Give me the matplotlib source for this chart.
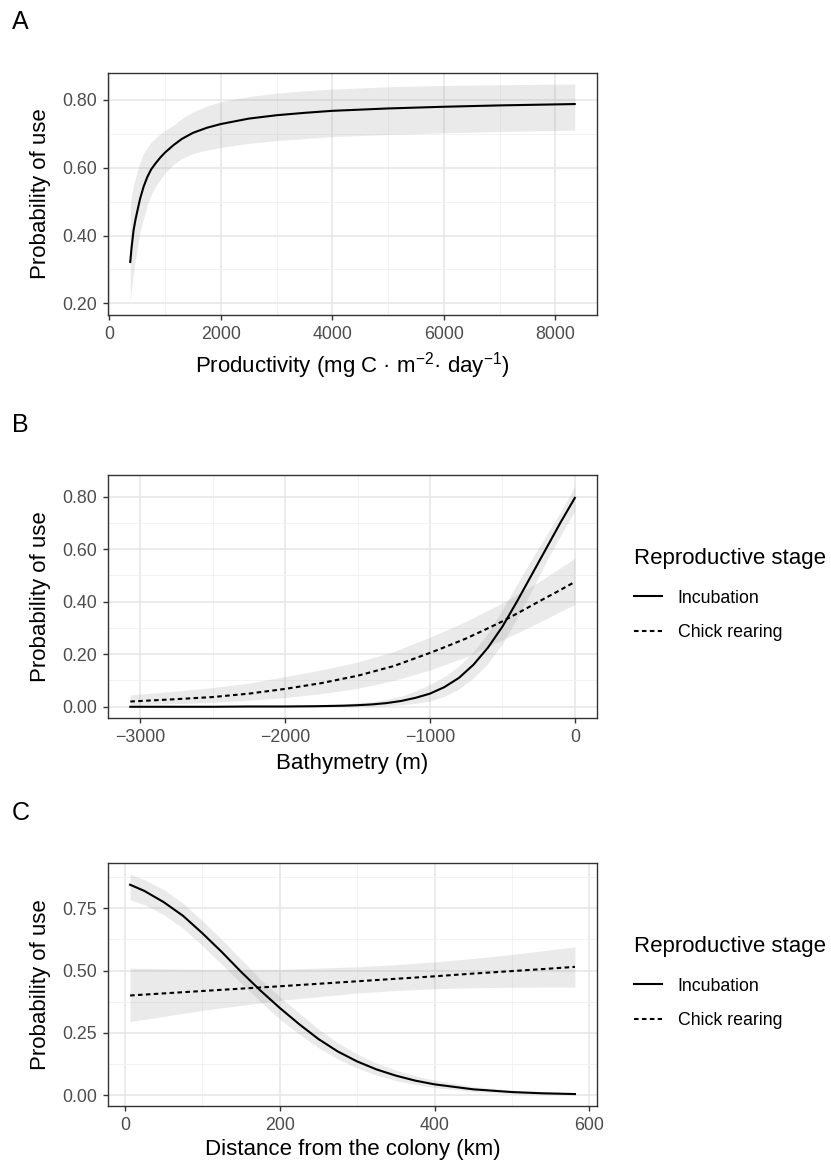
import matplotlib
matplotlib.use("Agg")
import matplotlib.pyplot as plt
from matplotlib.ticker import MultipleLocator

plt.rcParams['font.family'] = ['Liberation Sans', 'DejaVu Sans']
plt.rcParams['mathtext.fontset'] = 'custom'
plt.rcParams['mathtext.rm'] = 'Liberation Sans'
plt.rcParams['mathtext.default'] = 'regular'

# Panel A - productivity
prod_x = [376, 400, 436, 470, 500, 550, 615, 680, 750, 830, 914, 1000, 1153, 1300, 1500, 1750,
          2000, 2500, 3000, 3500, 4000, 5000, 6000, 7000, 8347]
prod_y = [0.322, 0.365, 0.416, 0.447, 0.47, 0.507, 0.544, 0.572, 0.595, 0.613, 0.630, 0.645, 0.667,
          0.685, 0.703, 0.718, 0.729, 0.745, 0.755, 0.762, 0.768, 0.775, 0.780, 0.784, 0.788]
prod_lo = [0.21, 0.245, 0.29, 0.33, 0.36, 0.41, 0.45, 0.49, 0.52, 0.545, 0.564, 0.585, 0.61,
           0.627, 0.642, 0.652, 0.66, 0.672, 0.68, 0.686, 0.692, 0.698, 0.703, 0.707, 0.711]
prod_hi = [0.49, 0.52, 0.55, 0.57, 0.59, 0.617, 0.643, 0.66, 0.675, 0.688, 0.70, 0.71, 0.726,
           0.745, 0.765, 0.782, 0.795, 0.81, 0.82, 0.827, 0.832, 0.839, 0.843, 0.845, 0.847]

# Panel B - bathymetry
bat_inc_x = [-3069, -2750, -2500, -2250, -2000, -1800, -1600, -1500, -1400, -1300, -1200, -1100,
             -1000, -900, -800, -700, -600, -500, -400, -300, -200, -100, 0]
bat_inc_y = [0, 0, 0, 0.001, 0.001, 0.002, 0.004, 0.006, 0.009, 0.014, 0.022, 0.034,
             0.05, 0.075, 0.11, 0.16, 0.225, 0.305, 0.40, 0.50, 0.60, 0.70, 0.795]
bat_inc_lo = [0, 0, 0, 0, 0, 0, 0.001, 0.001, 0.002, 0.004, 0.007, 0.013,
              0.022, 0.04, 0.068, 0.11, 0.165, 0.24, 0.335, 0.44, 0.55, 0.65, 0.745]
bat_inc_hi = [0.001, 0.001, 0.002, 0.003, 0.005, 0.007, 0.011, 0.015, 0.02, 0.028, 0.04, 0.06,
              0.085, 0.115, 0.155, 0.21, 0.28, 0.37, 0.465, 0.56, 0.65, 0.74, 0.84]

bat_chk_x = [-3069, -2750, -2500, -2250, -2000, -1750, -1500, -1250, -1000, -875, -750, -625,
             -500, -375, -250, -125, 0]
bat_chk_y = [0.02, 0.029, 0.037, 0.05, 0.068, 0.09, 0.118, 0.155, 0.205, 0.232, 0.26, 0.292,
             0.325, 0.362, 0.40, 0.437, 0.475]
bat_chk_lo = [0.008, 0.012, 0.017, 0.025, 0.035, 0.05, 0.07, 0.1, 0.14, 0.165, 0.19, 0.222,
              0.255, 0.287, 0.32, 0.355, 0.39]
bat_chk_hi = [0.045, 0.06, 0.073, 0.09, 0.115, 0.14, 0.17, 0.21, 0.265, 0.295, 0.325, 0.36,
              0.395, 0.435, 0.475, 0.52, 0.565]

# Panel C - distance from colony
dist_inc_x = [6.5, 25, 50, 75, 100, 125, 150, 175, 200, 225, 250, 275, 300, 325, 350, 375, 400,
              450, 500, 540, 581.5]
dist_inc_y = [0.845, 0.82, 0.775, 0.72, 0.65, 0.575, 0.495, 0.42, 0.35, 0.285, 0.225, 0.175, 0.135,
              0.103, 0.078, 0.058, 0.043, 0.023, 0.012, 0.007, 0.004]
dist_inc_lo = [0.785, 0.765, 0.725, 0.67, 0.60, 0.525, 0.45, 0.375, 0.305, 0.245, 0.19, 0.145, 0.108,
               0.08, 0.058, 0.042, 0.03, 0.014, 0.006, 0.003, 0.001]
dist_inc_hi = [0.888, 0.865, 0.825, 0.77, 0.70, 0.625, 0.545, 0.465, 0.395, 0.33, 0.265, 0.21, 0.165,
               0.128, 0.1, 0.077, 0.06, 0.034, 0.02, 0.013, 0.009]

dist_chk_x = [6.5, 100, 200, 300, 350, 400, 450, 500, 540, 581.5]
dist_chk_y = [0.40, 0.418, 0.437, 0.457, 0.467, 0.477, 0.488, 0.498, 0.506, 0.515]
dist_chk_lo = [0.295, 0.34, 0.38, 0.41, 0.42, 0.427, 0.431, 0.433, 0.434, 0.434]
dist_chk_hi = [0.51, 0.505, 0.505, 0.515, 0.524, 0.535, 0.549, 0.565, 0.58, 0.595]

stage_labels = ['Incubation', 'Chick rearing']

W, H = 831, 1163
fig = plt.figure(figsize=(W / 100, H / 100), dpi=100)


def make_axes(top, bottom, left=108, right=597):
    return fig.add_axes([left / W, 1 - bottom / H, (right - left) / W, (bottom - top) / H])


def style_axes(ax):
    for s in ax.spines.values():
        s.set_color('#333333')
        s.set_linewidth(1.0)
    ax.tick_params(which='major', direction='out', length=3.8, width=1.0, color='#333333',
                   labelsize=12.8, labelcolor='#4d4d4d', pad=4)
    ax.tick_params(which='minor', length=0)
    ax.grid(True, which='major', color='#e6e6e6', linewidth=1.1)
    ax.grid(True, which='minor', color='#f0f0f0', linewidth=0.6)
    ax.set_axisbelow(True)


ribbon = dict(color='#999999', alpha=0.2, linewidth=0)
dash = (0, (2.2, 1.6))

# ---- A ----
axA = make_axes(72.7, 315)
axA.fill_between(prod_x, prod_lo, prod_hi, **ribbon)
axA.plot(prod_x, prod_y, color='black', lw=1.5)
axA.set_xlim(-23, 8746)
axA.set_ylim(0.1655, 0.8805)
axA.xaxis.set_major_locator(MultipleLocator(2000))
axA.xaxis.set_minor_locator(MultipleLocator(1000))
axA.yaxis.set_major_locator(MultipleLocator(0.2))
axA.yaxis.set_minor_locator(MultipleLocator(0.1))
axA.yaxis.set_major_formatter(lambda v, p: f'{v:.2f}')
style_axes(axA)
axA.set_xlabel('Productivity (mg C · m$^{-2}$· day$^{-1}$)', fontsize=16, labelpad=5.5)
axA.set_ylabel('Probability of use', fontsize=16, labelpad=8)

# ---- B ----
axB = make_axes(475, 717.8)
axB.fill_between(bat_inc_x, bat_inc_lo, bat_inc_hi, **ribbon)
axB.fill_between(bat_chk_x, bat_chk_lo, bat_chk_hi, **ribbon)
axB.plot(bat_inc_x, bat_inc_y, color='black', lw=1.5, label=stage_labels[0])
axB.plot(bat_chk_x, bat_chk_y, color='black', lw=1.5, linestyle=dash, label=stage_labels[1])
axB.set_xlim(-3223, 153)
axB.set_ylim(-0.042, 0.882)
axB.xaxis.set_major_locator(MultipleLocator(1000))
axB.xaxis.set_minor_locator(MultipleLocator(500))
axB.yaxis.set_major_locator(MultipleLocator(0.2))
axB.yaxis.set_minor_locator(MultipleLocator(0.1))
axB.yaxis.set_major_formatter(lambda v, p: f'{v:.2f}')
axB.xaxis.set_major_formatter(lambda v, p: f'{v:.0f}'.replace('-', '\u2212'))
style_axes(axB)
axB.set_xlabel('Bathymetry (m)', fontsize=16, labelpad=5.5)
axB.set_ylabel('Probability of use', fontsize=16, labelpad=8)

# ---- C ----
axC = make_axes(863.3, 1106)
axC.fill_between(dist_inc_x, dist_inc_lo, dist_inc_hi, **ribbon)
axC.fill_between(dist_chk_x, dist_chk_lo, dist_chk_hi, **ribbon)
axC.plot(dist_inc_x, dist_inc_y, color='black', lw=1.5, label=stage_labels[0])
axC.plot(dist_chk_x, dist_chk_y, color='black', lw=1.5, linestyle=dash, label=stage_labels[1])
axC.set_xlim(-22, 610)
axC.set_ylim(-0.044, 0.931)
axC.xaxis.set_major_locator(MultipleLocator(200))
axC.xaxis.set_minor_locator(MultipleLocator(100))
axC.yaxis.set_major_locator(MultipleLocator(0.25))
axC.yaxis.set_minor_locator(MultipleLocator(0.125))
axC.yaxis.set_major_formatter(lambda v, p: f'{v:.2f}')
style_axes(axC)
axC.set_xlabel('Distance from the colony (km)', fontsize=16, labelpad=4)
axC.set_ylabel('Probability of use', fontsize=16, labelpad=8)

# legends
for ax, ytop in [(axB, 548), (axC, 936)]:
    leg = ax.legend(loc='upper left', bbox_to_anchor=(634 / W, 1 - ytop / H),
                    bbox_transform=fig.transFigure, frameon=False,
                    title='Reproductive stage', title_fontsize=16, fontsize=12.8,
                    handlelength=1.55, handletextpad=0.9, labelspacing=1.0,
                    borderpad=0, borderaxespad=0)
    leg._legend_box.align = 'left'
    leg._legend_box.sep = 1.0 * 12.8 + 2

# panel letters
for letter, ypix in [('A', 21.7), ('B', 425), ('C', 813)]:
    fig.text(12 / W, 1 - ypix / H, letter, fontsize=18, va='center', ha='left')

fig.savefig('out.png', dpi=100)
